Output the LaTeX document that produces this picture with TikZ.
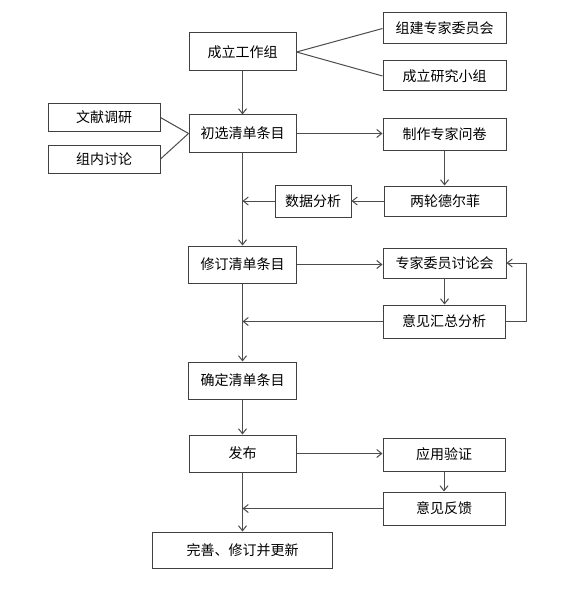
\documentclass[tikz,border=0pt]{standalone}
\usepackage{fontspec}
\setmainfont{Noto Sans CJK SC}
\usetikzlibrary{arrows.meta}
\begin{document}
\begin{tikzpicture}[x=1pt,y=-1pt,
  box/.style={draw=black!75,line width=1pt,inner sep=0pt,font=\fontsize{14}{16}\selectfont,text=black,anchor=center},
  ln/.style={draw=black!70,line width=1pt},
  arr/.style={ln,-{Straight Barb[length=5pt,width=8pt]}}]
\useasboundingbox (0,0) rectangle (568,591);
\node[box,minimum width=107pt,minimum height=38pt] (a) at (242.5,52) {成立工作组};
\node[box,minimum width=123pt,minimum height=31pt] (b1) at (444.5,28.5) {组建专家委员会};
\node[box,minimum width=123pt,minimum height=30pt] (b2) at (444.5,76) {成立研究小组};
\node[box,minimum width=107pt,minimum height=37pt] (c) at (242.5,133.5) {初选清单条目};
\node[box,minimum width=112pt,minimum height=27pt] (l1) at (104,117.5) {文献调研};
\node[box,minimum width=112pt,minimum height=28pt] (l2) at (104,159) {组内讨论};
\node[box,minimum width=123pt,minimum height=31pt] (d1) at (444.5,134.5) {制作专家问卷};
\node[box,minimum width=122pt,minimum height=30pt] (d2) at (445,201) {两轮德尔菲};
\node[box,minimum width=76pt,minimum height=32pt] (d3) at (313,201) {数据分析};
\node[box,minimum width=108pt,minimum height=37pt] (e) at (242.5,264.5) {修订清单条目};
\node[box,minimum width=123pt,minimum height=30pt] (f1) at (444.5,263) {专家委员讨论会};
\node[box,minimum width=122pt,minimum height=33pt] (f2) at (444,321.5) {意见汇总分析};
\node[box,minimum width=108pt,minimum height=37pt] (g) at (242.5,380.5) {确定清单条目};
\node[box,minimum width=107pt,minimum height=37pt] (h) at (242.5,453.5) {发布};
\node[box,minimum width=122pt,minimum height=33pt] (i1) at (444,454.5) {应用验证};
\node[box,minimum width=122pt,minimum height=33pt] (i2) at (444,508.5) {意见反馈};
\node[box,minimum width=180pt,minimum height=36pt] (j) at (242.5,550) {完善、修订并更新};
\coordinate (m1) at (c.south |- d3.west);
\coordinate (m2) at (c.south |- f2.west);
\coordinate (m3) at (c.south |- i2.west);
\draw[ln] (a.east) -- (b1.west);
\draw[ln] (a.east) -- (b2.west);
\draw[ln] (l1.east) -- (c.west);
\draw[ln] (l2.east) -- (c.west);
\draw[arr] (a.south) -- (c.north);
\draw[arr] (c.south) -- (e.north);
\draw[arr] (e.south) -- (g.north);
\draw[arr] (g.south) -- (h.north);
\draw[arr] (h.south) -- (j.north);
\draw[arr] (c.east) -- (c.east -| d1.west);
\draw[arr] (d1.south) -- (d1.south |- d2.north);
\draw[arr] (d2.west) -- (d3.east);
\draw[arr] (d3.west) -- (m1);
\draw[arr] (e.east) -- (e.east -| f1.west);
\draw[arr] (f1.south) -- (f1.south |- f2.north);
\draw[arr] (f2.west) -- (m2);
\draw[arr] (f2.east) -- ++(21,0) |- (f1.east);
\draw[arr] (h.east) -- (h.east -| i1.west);
\draw[arr] (i1.south) -- (i1.south |- i2.north);
\draw[arr] (i2.west) -- (m3);
\end{tikzpicture}
\end{document}
